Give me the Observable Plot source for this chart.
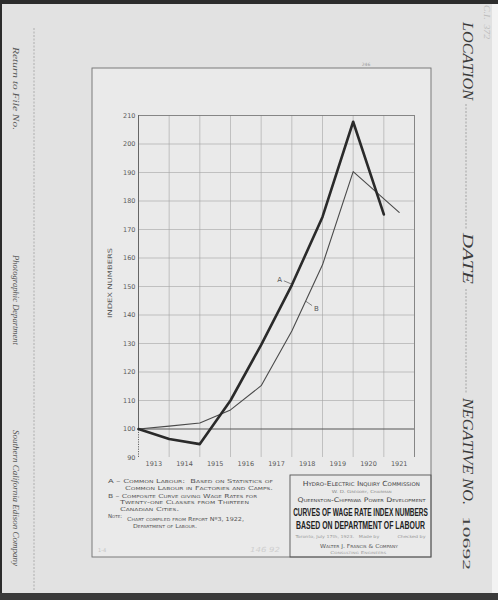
<!DOCTYPE html>
<html><head><meta charset="utf-8">
<script src="https://cdn.jsdelivr.net/npm/d3@7"></script>
<script src="https://cdn.jsdelivr.net/npm/@observablehq/plot@0.6"></script>
<style>
html,body{margin:0;padding:0;background:#2c2c2c;}
#chart{width:498px;height:600px;overflow:hidden;}
#chart svg{display:block;}
</style></head><body><div id="chart"></div>
<script>
// ---- data ----
const yearsA = [1913, 1914, 1915, 1916, 1917, 1918, 1919, 1920, 1921];
const seriesA = [100, 96.5, 94.7, 110, 129.5, 150.5, 174.4, 207.8, 175.3];
const yearsB = [1913, 1914, 1915, 1916, 1917, 1918, 1919, 1920, 1921.5];
const seriesB = [100, 101, 102.1, 106.7, 115.2, 134.4, 157.6, 190.3, 176];
const yearLabels = ["1913", "1914", "1915", "1916", "1917", "1918", "1919", "1920", "1921"];
const yearLabelPos = [1913.5, 1914.5, 1915.5, 1916.5, 1917.5, 1918.5, 1919.5, 1920.5, 1921.5];
const yTicks = [90, 100, 110, 120, 130, 140, 150, 160, 170, 180, 190, 200, 210];
const gridYears = [1914, 1915, 1916, 1917, 1918, 1919, 1920, 1921];
const curveLabels = ["A", "B"];
const curveLabelYear = [1917.6, 1918.8];
const curveLabelValue = [152.3, 142.2];
const leaderFrom = [[1917.74, 152.0], [1918.66, 143.3]];
const leaderTo = [[1917.98, 150.9], [1918.46, 144.8]];

const A = yearsA.map((x, i) => ({x, y: seriesA[i]}));
const B = yearsB.map((x, i) => ({x, y: seriesB[i]}));
const labels = curveLabels.map((t, i) => ({t, x: curveLabelYear[i], y: curveLabelValue[i]}));
const leaders = leaderFrom.map((f, i) => ({x1: f[0], y1: f[1], x2: leaderTo[i][0], y2: leaderTo[i][1]}));

const plot = Plot.plot({
  width: 498, height: 600,
  marginLeft: 138, marginRight: 84, marginTop: 115, marginBottom: 143,
  x: {domain: [1913, 1922]},
  y: {domain: [90, 210]},
  style: {background: "transparent", fontFamily: "DejaVu Sans, sans-serif", fontSize: "6.5px", color: "#5a5a5a"},
  marks: [
    Plot.ruleY(yTicks.filter(v => v > 100 && v < 210), {stroke: "#a2a2a2", strokeWidth: 0.6}),
    Plot.ruleX(gridYears, {y1: 90, y2: 210, stroke: "#a2a2a2", strokeWidth: 0.6}),
    Plot.ruleX([1922], {y1: 90, y2: 210, stroke: "#7a7a7a", strokeWidth: 0.9}),
    Plot.ruleY([210], {stroke: "#7a7a7a", strokeWidth: 0.9}),
    Plot.ruleY([100], {stroke: "#555", strokeWidth: 1}),
    Plot.ruleX([1913], {y1: 100, y2: 210, stroke: "#666", strokeWidth: 1}),
    Plot.ruleX([1913], {y1: 90, y2: 100, stroke: "#666", strokeWidth: 1, strokeDasharray: "1.2,1.2"}),
    Plot.line(B, {x: "x", y: "y", stroke: "#4a4a4a", strokeWidth: 1.1}),
    Plot.line(A, {x: "x", y: "y", stroke: "#2a2a2a", strokeWidth: 2.6}),
    Plot.link(leaders, {x1: "x1", y1: "y1", x2: "x2", y2: "y2", stroke: "#555", strokeWidth: 0.7}),
    Plot.text(labels, {x: "x", y: "y", text: "t", fill: "#555", fontSize: 7}),
    Plot.axisY(yTicks, {tickSize: 0, tickPadding: 3, label: null}),
    Plot.axisX(yearLabelPos, {tickSize: 0, tickPadding: 4, label: null, tickFormat: (d, i) => yearLabels[i]})
  ]
});
document.getElementById("chart").appendChild(plot);

const root = d3.select(plot);
const bg = root.insert("g", ":first-child");
bg.append("rect").attr("width", 498).attr("height", 600).attr("fill", "#2c2c2c");
bg.append("rect").attr("x", 2).attr("y", 4).attr("width", 490).attr("height", 589).attr("fill", "#e2e2e2");
bg.append("rect").attr("x", 492).attr("y", 4).attr("width", 6).attr("height", 589).attr("fill", "#f3f3f3");
bg.append("rect").attr("x", 0).attr("y", 593).attr("width", 498).attr("height", 7).attr("fill", "#3a3a3a");
bg.append("rect").attr("x", 92).attr("y", 68).attr("width", 339).attr("height", 489)
  .attr("fill", "#eaeaea").attr("stroke", "#707070").attr("stroke-width", 0.9);
bg.append("line").attr("x1", 34).attr("x2", 34).attr("y1", 28).attr("y2", 590)
  .attr("stroke", "#9a9a9a").attr("stroke-width", 0.7).attr("stroke-dasharray", "2,1.5");
[[104, 229], [289, 393]].forEach(([a, b]) =>
  bg.append("line").attr("x1", 466).attr("x2", 466).attr("y1", a).attr("y2", b)
    .attr("stroke", "#8a8a8a").attr("stroke-width", 0.7).attr("stroke-dasharray", "2,1.5"));

const ov = root.append("g");
function t(x, y, s, o = {}) {
  const e = ov.append("text").attr("x", x).attr("y", y).text(s)
    .attr("font-family", o.ff || "DejaVu Sans, sans-serif")
    .attr("font-size", o.fs || 6)
    .attr("fill", o.fill || "#555")
    .attr("text-anchor", o.anchor || "start");
  if (o.w) e.attr("textLength", o.w).attr("lengthAdjust", "spacingAndGlyphs");
  if (o.sc) e.style("font-variant", "small-caps");
  if (o.bold) e.attr("font-weight", "bold");
  if (o.italic) e.attr("font-style", "italic");
  if (o.rot) e.attr("transform", `rotate(${o.rot},${x},${y})`);
  return e;
}
// condensed text: scale horizontally to a target width so its box is true
function squeezed(cx, y, s, width, o = {}) {
  const e = ov.append("text").attr("x", 0).attr("y", 0).text(s)
    .attr("font-family", o.ff || "Liberation Sans, sans-serif")
    .attr("font-size", o.fs || 12)
    .attr("font-weight", o.bold ? "bold" : "normal")
    .attr("fill", o.fill || "#222")
    .attr("text-anchor", "middle");
  const natural = e.node().getComputedTextLength() || width;
  e.attr("transform", `translate(${cx},${y}) scale(${width / natural},1)`);
  return e;
}
// title box
ov.append("rect").attr("x", 290).attr("y", 475).attr("width", 141).attr("height", 82)
  .attr("fill", "none").attr("stroke", "#555").attr("stroke-width", 0.9);
// y axis title
t(112, 283, "INDEX NUMBERS", {fs: 6, anchor: "middle", rot: -90, w: 70, fill: "#5a5a5a"});
t(366, 66, "246", {fs: 4.5, anchor: "middle", fill: "#9a9a9a"});
// notes
const notes = [
  [108, 483, "A – Common Labour:  Based on Statistics of", 165],
  [125, 489.5, "Common Labour in Factories and Camps.", 148],
  [108, 498, "B – Composite Curve giving Wage Rates for", 149],
  [120, 504, "Twenty-one Classes from Thirteen", 129],
  [120, 510.5, "Canadian Cities.", 59],
  [108, 517.5, "Note:", 14],
  [127, 521, "Chart compiled from Report Nº3, 1922,", 117],
  [133, 528, "Department of Labour.", 64]
];
notes.forEach(([x, y, s, w]) => t(x, y, s, {fs: 5.5, sc: true, w, fill: "#555"}));
// title block
t(361.3, 485.8, "Hydro-Electric Inquiry Commission", {fs: 7, sc: true, anchor: "middle", w: 117, fill: "#444"});
t(361.7, 492.6, "W. D. Gregory, Chairman", {fs: 4.2, sc: true, anchor: "middle", w: 60, fill: "#888"});
t(361.5, 502, "Queenston-Chippawa Power Development", {fs: 6.3, sc: true, anchor: "middle", w: 128, fill: "#444"});
squeezed(360.5, 516.2, "CURVES OF WAGE RATE INDEX NUMBERS", 135, {fs: 11, bold: true});
squeezed(360.5, 529, "BASED ON DEPARTMENT OF LABOUR", 129, {fs: 11, bold: true});
t(360.5, 538, "Toronto, July 17th, 1923.   Made by            Checked by", {fs: 4, anchor: "middle", w: 130, fill: "#999"});
t(359, 548, "Walter J. Francis & Company", {fs: 5.5, sc: true, anchor: "middle", w: 78, fill: "#555"});
t(358.3, 554, "Consulting Engineers", {fs: 4, sc: true, anchor: "middle", w: 56, fill: "#a0a0a0"});
// pencil marks
t(250, 552, "146 92", {fs: 7, w: 30, fill: "#cfcfcf", italic: true});
t(98, 552, "1-4", {fs: 5, fill: "#c4c4c4"});
// left margin captions
const serif = "Liberation Serif, DejaVu Serif, serif";
t(12.5, 47, "Return to File No.", {fs: 9, ff: serif, italic: true, rot: 90, w: 83, fill: "#555"});
t(12.5, 255, "Photographic Department", {fs: 9, ff: serif, italic: true, rot: 90, w: 90, fill: "#555"});
t(12.5, 430, "Southern California Edison Company", {fs: 9, ff: serif, italic: true, rot: 90, w: 136, fill: "#555"});
// right margin captions
t(462.5, 22, "LOCATION", {fs: 14, ff: serif, italic: true, rot: 90, w: 78, fill: "#3a3a3a"});
t(462.5, 233, "DATE", {fs: 14, ff: serif, italic: true, rot: 90, w: 51, fill: "#3a3a3a"});
t(462.5, 398, "NEGATIVE NO.", {fs: 14, ff: serif, italic: true, rot: 90, w: 107, fill: "#3a3a3a"});
t(463, 516, "10692", {fs: 11, ff: serif, rot: 90, w: 54, fill: "#444"});
t(484, 5, "C.I.  372", {fs: 9, ff: serif, italic: true, rot: 90, w: 34, fill: "#bdbdbd"});
</script></body></html>
